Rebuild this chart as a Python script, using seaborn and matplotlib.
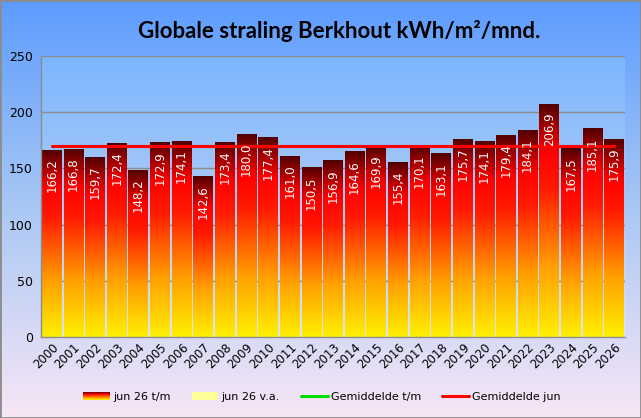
import numpy as np
import pandas as pd
import matplotlib
matplotlib.use('Agg')
import matplotlib.pyplot as plt
import seaborn as sns
from matplotlib.colors import LinearSegmentedColormap
from matplotlib.patches import Rectangle, Patch
from matplotlib.lines import Line2D
from matplotlib.legend_handler import HandlerPatch

# Gegevens: globale straling juni (kWh/m2) per jaar
jaren = ['2000', '2001', '2002', '2003', '2004', '2005', '2006', '2007', '2008',
         '2009', '2010', '2011', '2012', '2013', '2014', '2015', '2016', '2017',
         '2018', '2019', '2020', '2021', '2022', '2023', '2024', '2025', '2026']
straling = [166.2, 166.8, 159.7, 172.4, 148.2, 172.9, 174.1, 142.6, 173.4,
            180.0, 177.4, 161.0, 150.5, 156.9, 164.6, 169.9, 155.4, 170.1,
            163.1, 175.7, 174.1, 179.4, 184.1, 206.9, 167.5, 185.1, 175.9]
gemiddelde_jun = [169.7] * len(jaren)
gemiddelde_tm = [169.7] * len(jaren)

df = pd.DataFrame({'jaar': jaren, 'straling': straling,
                   'gem_jun': gemiddelde_jun, 'gem_tm': gemiddelde_tm})

sns.set_style('white')
plt.rcParams['text.color'] = 'black'
plt.rcParams['xtick.color'] = 'black'
plt.rcParams['ytick.color'] = 'black'

# kleurverloop van de staven: donkerrood boven, geel onder
bar_cmap = LinearSegmentedColormap.from_list(
    'staaf', [(0.0, '#520000'), (0.2, '#ff0000'), (0.36, '#ff1a00'),
              (0.7, '#ffa000'), (1.0, '#fff000')])

fig, ax = plt.subplots(figsize=(6.41, 4.18), dpi=100)
fig.subplots_adjust(left=41 / 641, right=625 / 641, top=1 - 56 / 418, bottom=1 - 337 / 418)

# achtergrond figuur
bg = fig.add_axes([0, 0, 1, 1], zorder=-5)
bg_cmap = LinearSegmentedColormap.from_list('bg', ['#5c9cff', '#a9c8f4', '#f8e6f6'])
bg.imshow(np.linspace(0, 1, 256)[:, None], cmap=bg_cmap, aspect='auto', extent=[0, 1, 0, 1])
bg.axis('off')

ax.patch.set_alpha(0)
plot_cmap = LinearSegmentedColormap.from_list('plot', ['#7db6ff', '#a8c9f6', '#dfe4f2'])
ax.imshow(np.linspace(0, 1, 256)[:, None], cmap=plot_cmap, aspect='auto',
          extent=[0, 1, 0, 1], transform=ax.transAxes, zorder=0)

yticks = [0, 50, 100, 150, 200, 250]
for yt in yticks[1:]:
    ax.axhline(yt, color='#8c8c8c', lw=1, zorder=1)

sns.barplot(data=df, x='jaar', y='straling', width=0.91, ax=ax, zorder=2)

grad = np.linspace(0, 1, 256)[:, None]
for p, v in zip(ax.patches, straling):
    x0 = p.get_x()
    w = p.get_width()
    p.set_facecolor('none')
    p.set_edgecolor('none')
    ax.imshow(grad, cmap=bar_cmap, aspect='auto', origin='upper',
              extent=[x0, x0 + w, 0, p.get_height()], zorder=2)
    ax.annotate(f"{v:.1f}".replace('.', ','), xy=(x0 + w / 2, v), xytext=(0, -6),
                textcoords='offset points', rotation=90, ha='center', va='top',
                color='white', fontsize=8.5, zorder=4)

sns.lineplot(data=df, x='jaar', y='gem_tm', color='#00e000', lw=2.2, ax=ax, zorder=3)
sns.lineplot(data=df, x='jaar', y='gem_jun', color='#ff0000', lw=2.2, ax=ax, zorder=3)

ax.set_xlim(-0.5, len(jaren) - 0.5)
ax.set_ylim(0, 250)
ax.set_yticks(yticks)
ax.grid(False)
for s in ['top', 'right']:
    ax.spines[s].set_visible(False)
for s in ['left', 'bottom']:
    ax.spines[s].set_color('#8c8c8c')
    ax.spines[s].set_linewidth(1)
    ax.spines[s].set_zorder(5)
ax.tick_params(axis='y', length=4, color='#8c8c8c', labelsize=9, pad=2)
ax.tick_params(axis='x', which='major', length=0, labelsize=8.5, pad=3)
ax.set_xticks(np.arange(-0.5, len(jaren), 1), minor=True)
ax.tick_params(axis='x', which='minor', length=4, color='#8c8c8c')
plt.setp(ax.get_xticklabels(), rotation=45, ha='right', rotation_mode='anchor')
ax.set_xlabel('')
ax.set_ylabel('')

fig.suptitle('Globale straling Berkhout kWh/m²/mnd.', x=339 / 641, y=1 - 31 / 418,
             va='center', fontsize=16, fontweight='bold', family='Lato', color='black')


class GradientHandler(HandlerPatch):
    def create_artists(self, legend, orig_handle, xdescent, ydescent, width, height, fontsize, trans):
        stukken = []
        n = 10
        for i in range(n):
            r = Rectangle((-xdescent, -ydescent + height * (n - 1 - i) / n), width, height / n,
                          facecolor=bar_cmap((i + 0.5) / n), edgecolor='none', transform=trans)
            stukken.append(r)
        return stukken


handles = [Patch(label='jun 26 t/m'),
           Patch(facecolor='#ffff99', edgecolor='none', label='jun 26 v.a.'),
           Line2D([], [], color='#00e000', lw=2.2, label='Gemiddelde t/m'),
           Line2D([], [], color='#ff0000', lw=2.2, label='Gemiddelde jun')]
fig.legend(handles=handles, loc='center', bbox_to_anchor=(322 / 641, 1 - 397 / 418), ncol=4,
           frameon=False, fontsize=8, handlelength=2.4, handletextpad=0.3, columnspacing=1.9,
           handler_map={handles[0]: GradientHandler()})

fig.patches.append(Rectangle((0, 0), 1, 1, transform=fig.transFigure, fill=False,
                             edgecolor='#8c8c8c', lw=2))

plt.savefig('out.png', dpi=100)
